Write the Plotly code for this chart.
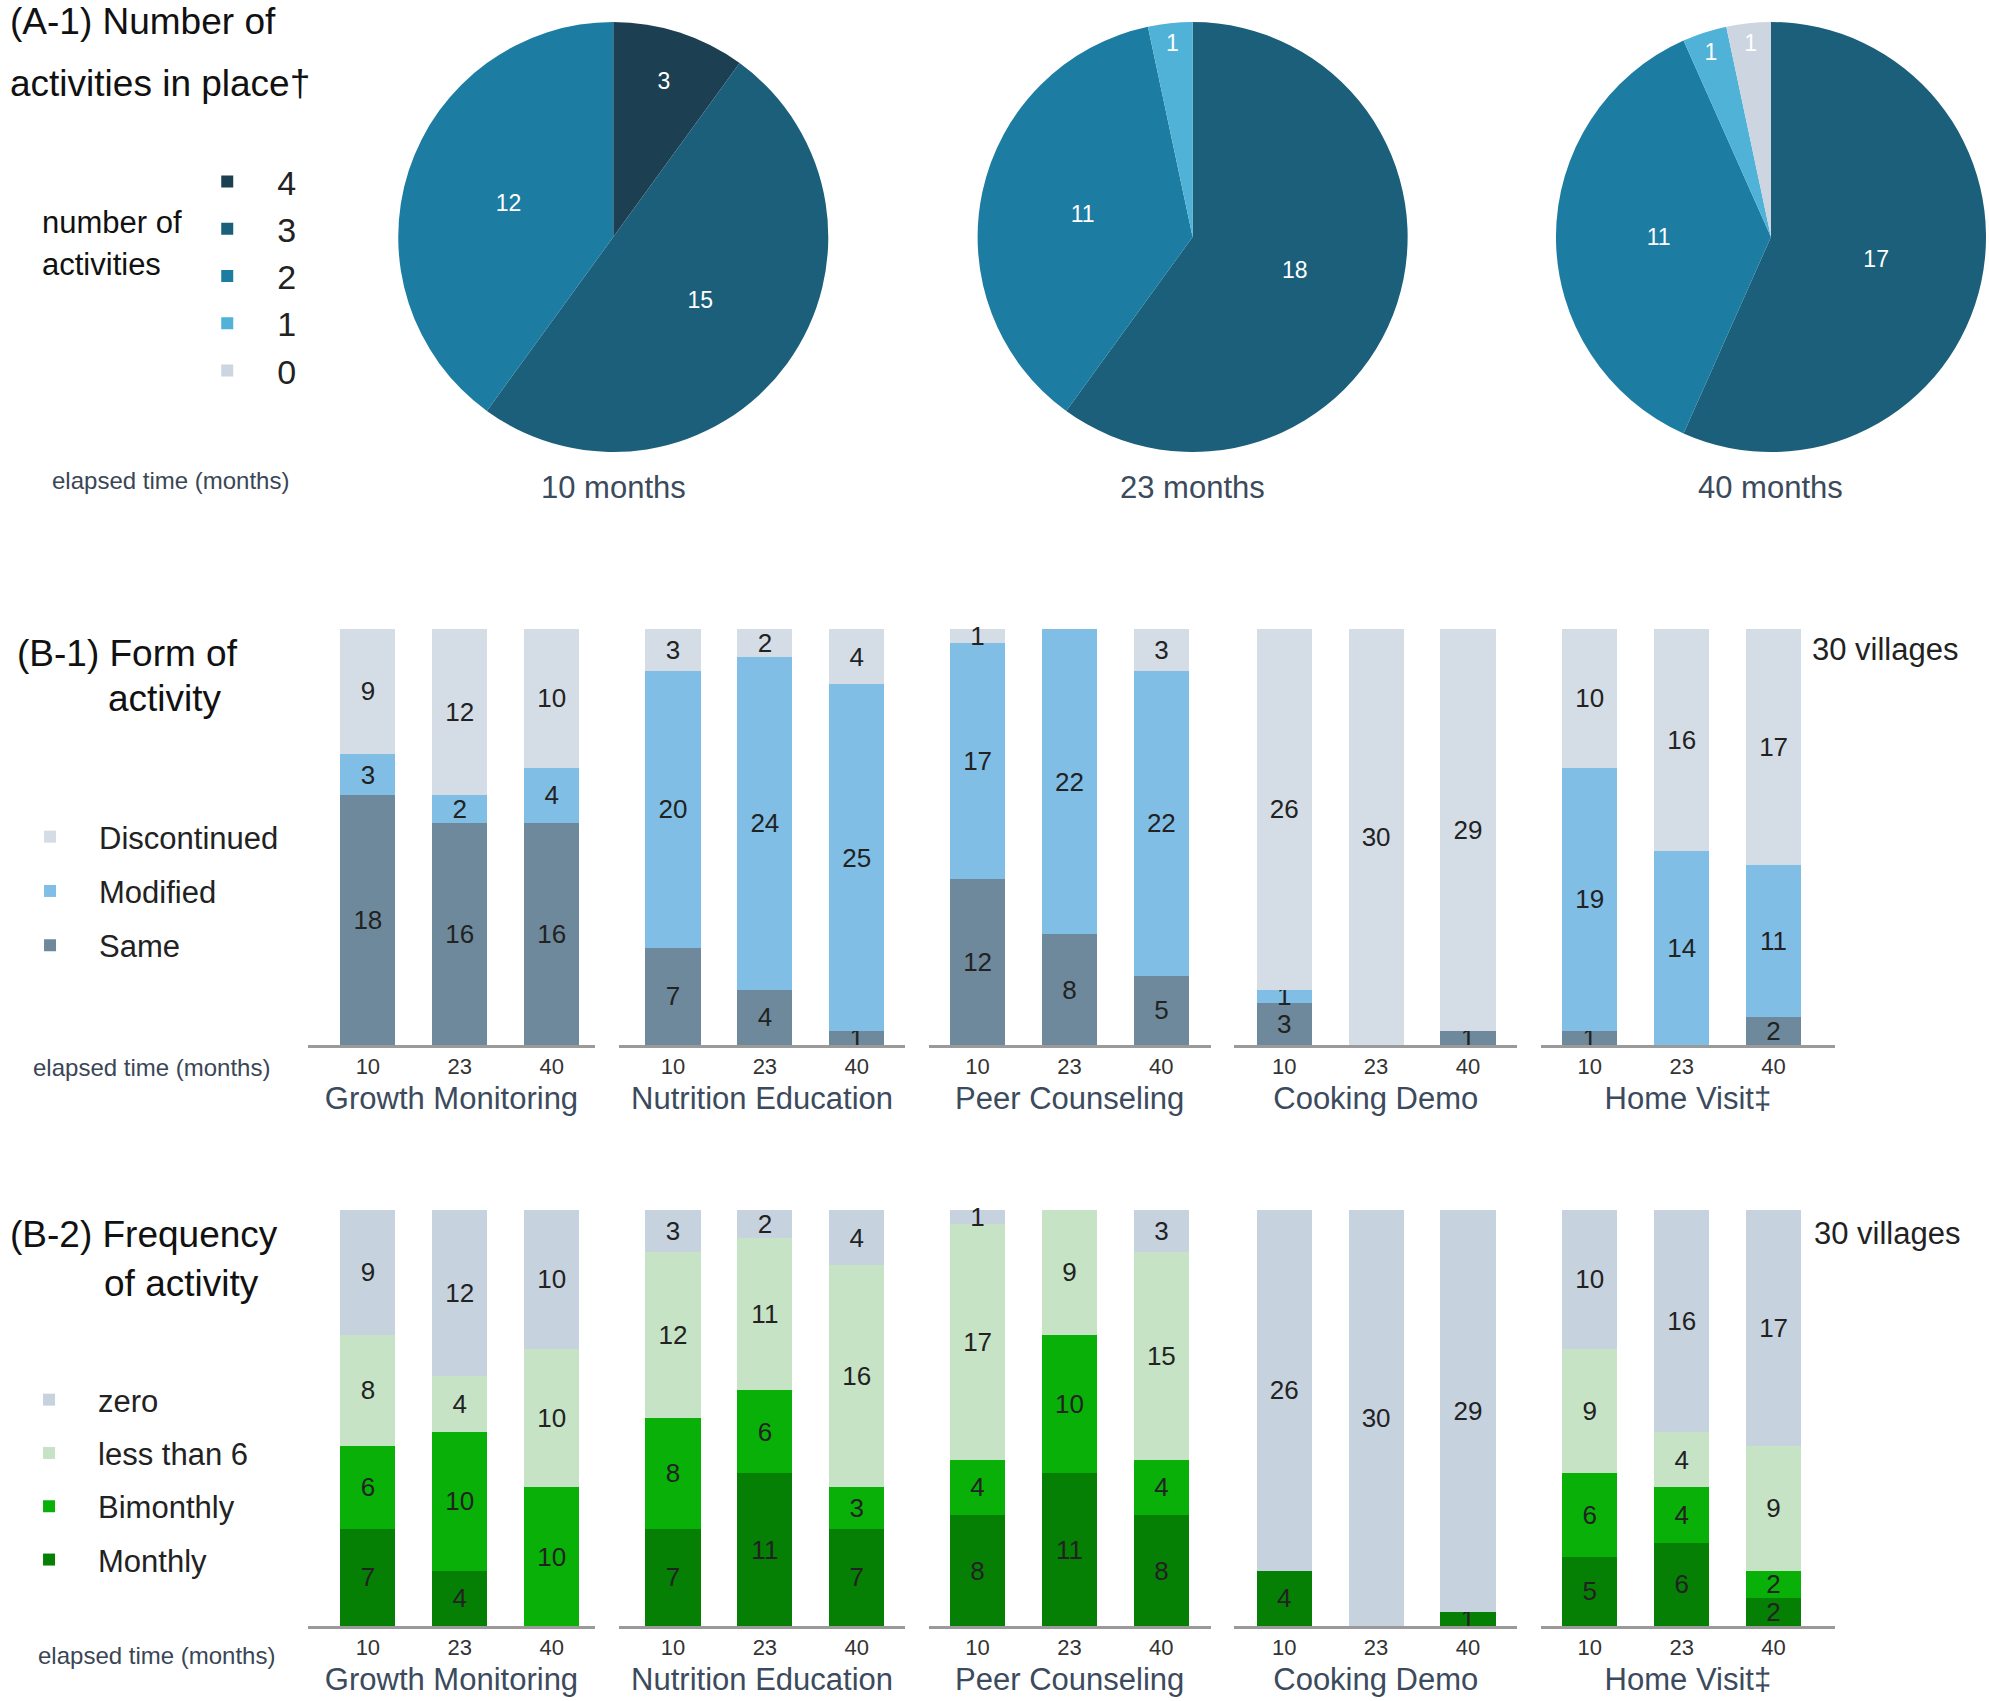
import plotly.graph_objects as go

W, H = 1989, 1701
FONT = "Liberation Sans, Arial, sans-serif"

# ---------------- data ----------------
activity_levels = ['4', '3', '2', '1', '0']
pie_titles = ['10 months', '23 months', '40 months']
pie_10 = [3, 15, 12, 0, 0]
pie_23 = [0, 18, 11, 1, 0]
pie_40 = [0, 17, 11, 1, 1]
pie_colors = ['#1c3f51', '#1b5f7a', '#1c7ca2', '#4fb2d6', '#cdd6e0']

activities = ['Growth Monitoring', 'Nutrition Education', 'Peer Counseling',
              'Cooking Demo', 'Home Visit‡']
months = ['10', '23', '40']

# (B-1) form of activity, per activity: values at 10, 23, 40 months
same = [[18, 16, 16], [7, 4, 1], [12, 8, 5], [3, 0, 1], [1, 0, 2]]
modified = [[3, 2, 4], [20, 24, 25], [17, 22, 22], [1, 0, 0], [19, 14, 11]]
discontinued = [[9, 12, 10], [3, 2, 4], [1, 0, 3], [26, 30, 29], [10, 16, 17]]

# (B-2) frequency of activity
monthly = [[7, 4, 0], [7, 11, 7], [8, 11, 8], [4, 0, 1], [5, 6, 2]]
bimonthly = [[6, 10, 10], [8, 6, 3], [4, 10, 4], [0, 0, 0], [6, 4, 2]]
less_than_6 = [[8, 4, 10], [12, 11, 16], [17, 9, 15], [0, 0, 0], [9, 4, 9]]
zero = [[9, 12, 10], [3, 2, 4], [1, 0, 3], [26, 30, 29], [10, 16, 17]]

form_series = [('Same', same, '#6e899b'),
               ('Modified', modified, '#80bee6'),
               ('Discontinued', discontinued, '#d4dde6')]
freq_series = [('Monthly', monthly, '#058005'),
               ('Bimonthly', bimonthly, '#08b008'),
               ('less than 6', less_than_6, '#c6e3c6'),
               ('zero', zero, '#c7d2df')]

# ---------------- layout helpers (pixel -> paper) ----------------
def fx(px):
    return px / W

def fy(py):
    return 1 - py / H

fig = go.Figure()

# ---------------- pies ----------------
pie_cx = [607, 1189, 1770]
pie_cy = 237
pie_r = 216
for i, vals in enumerate([pie_10, pie_23, pie_40]):
    labs = [l for l, v in zip(activity_levels, vals) if v > 0]
    vs = [v for v in vals if v > 0]
    cols = [c for c, v in zip(pie_colors, vals) if v > 0]
    fig.add_trace(go.Pie(
        labels=labs, values=vs, sort=False, direction='clockwise', rotation=0,
        marker=dict(colors=cols, line=dict(width=0)),
        textinfo='value', textposition='inside', insidetextorientation='horizontal',
        textfont=dict(size=23, color='white', family=FONT),
        domain=dict(x=[fx(pie_cx[i] - pie_r), fx(pie_cx[i] + pie_r)],
                    y=[fy(pie_cy + pie_r), fy(pie_cy - pie_r)]),
        legend='legend', showlegend=True, name=pie_titles[i],
        hovertemplate='%{label} activities: %{value}<extra>' + pie_titles[i] + '</extra>'
    ))

# ---------------- bars ----------------
col_dom = [(300, 589), (613, 900), (924, 1207), (1231, 1515), (1539, 1834)]
first_c = [360.5, 667, 973, 1281, 1588]
step = 92.3
rows = [dict(top=629, base=1045, series=form_series, legend='legend2'),
        dict(top=1210, base=1626, series=freq_series, legend='legend3')]

layout_axes = {}
for r, row in enumerate(rows):
    nser = len(row['series'])
    for c in range(5):
        k = r * 5 + c + 1
        xname = 'x' if k == 1 else f'x{k}'
        yname = 'y' if k == 1 else f'y{k}'
        for si, (name, data, color) in enumerate(row['series']):
            vals = data[c]
            fig.add_trace(go.Bar(
                x=months, y=vals, xaxis=xname, yaxis=yname,
                name=name, legend=row['legend'], legendgroup=f'{name}{r}',
                legendrank=nser - si, showlegend=(c == 0),
                marker=dict(color=color, line=dict(width=0)),
                width=0.6,
                text=[str(v) if v else '' for v in vals],
                textposition='inside', insidetextanchor='middle',
                constraintext='none', textangle=0, cliponaxis=False,
                textfont=dict(size=26, color='#222222', family=FONT),
                hovertemplate=activities[c] + ', %{x} months<br>' + name + ': %{y}<extra></extra>'
            ))
        s, e = col_dom[c]
        rng = [-(first_c[c] - s) / step, (e - first_c[c]) / step]
        layout_axes['xaxis' if k == 1 else f'xaxis{k}'] = dict(
            domain=[fx(s), fx(e)], anchor=yname, type='category',
            categoryorder='array', categoryarray=months, range=rng,
            showline=True, linecolor='#9a9a9a', linewidth=3,
            ticks='', showgrid=False, zeroline=False,
            tickfont=dict(size=22, color='#333333', family=FONT),
            ticklabelstandoff=0,
            title=dict(text=activities[c], standoff=9,
                       font=dict(size=31, color='#3b4a5c', family=FONT)),
            fixedrange=True)
        layout_axes['yaxis' if k == 1 else f'yaxis{k}'] = dict(
            domain=[fy(row['base']), fy(row['top'])], anchor=xname,
            range=[0, 30], visible=False, fixedrange=True)

# ---------------- annotations ----------------
ann = []

def text(x, y, t, size, color='#111111', xanchor='left'):
    ann.append(dict(x=fx(x), y=fy(y), xref='paper', yref='paper', text=t,
                    showarrow=False, xanchor=xanchor, yanchor='middle',
                    borderpad=0,
                    font=dict(size=size, color=color, family=FONT)))

text(0, 21, '(A-1) Number of', 37)
text(0, 83, 'activities in place†', 37)
text(32, 222, 'number of', 31)
text(32, 264, 'activities', 31)
text(42, 481, 'elapsed time (months)', 24, '#3a4656')
for i, t in enumerate(pie_titles):
    text(pie_cx[i], 487, t, 31, '#3b4a5c', 'center')

text(7, 653, '(B-1) Form of', 37)
text(98, 699, 'activity', 37)
text(23, 1067, 'elapsed time (months)', 24, '#3a4656')
text(1810, 650, '30 villages', 31, '#222222')

text(0, 1234, '(B-2) Frequency', 37)
text(94, 1283, 'of activity', 37)
text(28, 1655, 'elapsed time (months)', 24, '#3a4656')
text(1812, 1233, '30 villages', 31, '#222222')

fig.update_layout(
    width=W, height=H, margin=dict(l=0, r=0, t=0, b=0),
    paper_bgcolor='white', plot_bgcolor='white',
    barmode='stack', bargap=0.4,
    font=dict(family=FONT, color='#222222'),
    annotations=ann,
    legend=dict(x=fx(169), y=fy(153), xanchor='left', yanchor='top',
                font=dict(size=34, color='#222222', family=FONT),
                itemwidth=90, traceorder='normal', bgcolor='rgba(0,0,0,0)'),
    legend2=dict(x=fx(-8), y=fy(810), xanchor='left', yanchor='top',
                 font=dict(size=31, color='#222222', family=FONT),
                 itemwidth=88, traceorder='grouped', tracegroupgap=11,
                 bgcolor='rgba(0,0,0,0)'),
    legend3=dict(x=fx(-9), y=fy(1373), xanchor='left', yanchor='top',
                 font=dict(size=31, color='#222222', family=FONT),
                 itemwidth=88, traceorder='grouped', tracegroupgap=10,
                 bgcolor='rgba(0,0,0,0)'),
    **layout_axes
)

fig.write_html(
    'out.html',
    config={'displayModeBar': False},
    post_script=("document.documentElement.style.margin='0';"
                 "document.body.style.margin='0';document.body.style.padding='0';"
                 "document.body.style.overflow='hidden';"
                 "var d=document.getElementById('{plot_id}');"
                 "d.style.position='absolute';d.style.left='0px';d.style.top='0px';")
)
